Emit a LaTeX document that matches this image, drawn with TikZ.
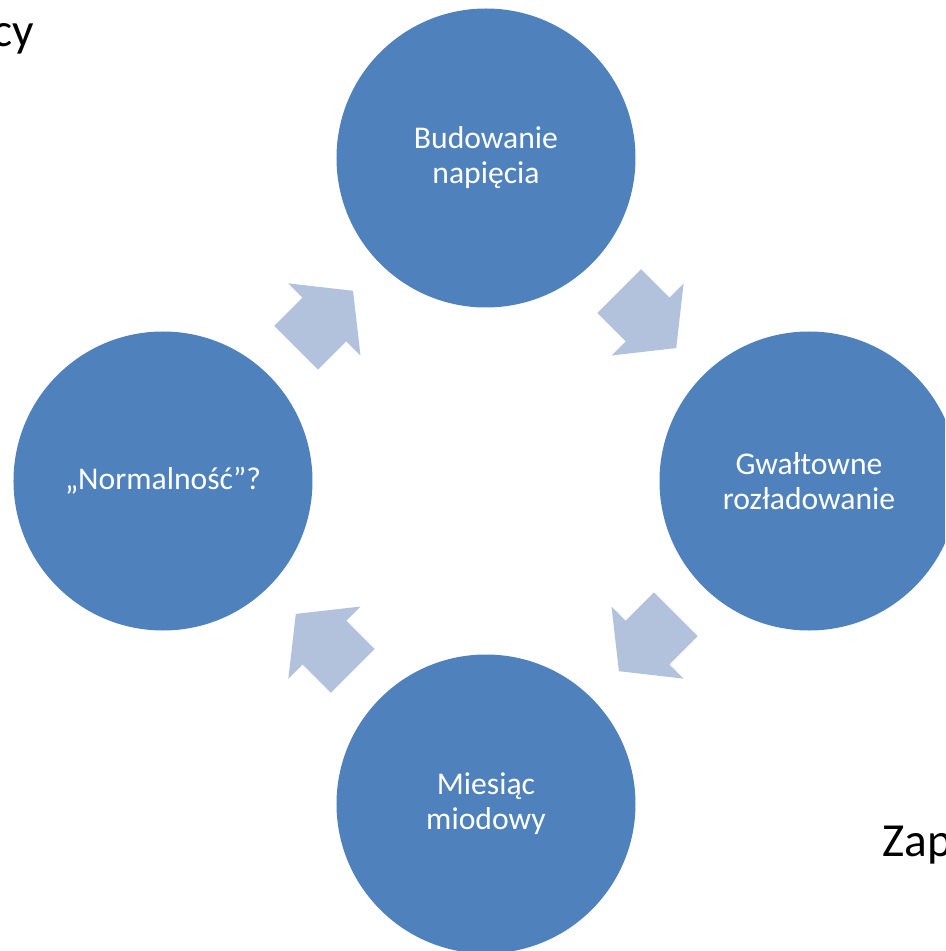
\documentclass[tikz,border=0pt]{standalone}
\usepackage{fontspec}
\setmainfont{Carlito}
\usepackage{tikz}
\usetikzlibrary{calc}
\definecolor{circblue}{HTML}{4F81BD}
\definecolor{arrowblue}{HTML}{B3C2DC}

\begin{document}
\begin{tikzpicture}[
  stage/.style={circle, fill=circblue, minimum size=5.98cm, inner sep=0pt,
    text=white, align=center, font=\fontsize{18}{19.9}\selectfont},
  slide/.style={font=\fontsize{27}{32}\selectfont, text=black, inner sep=0pt}]
\clip (-9.72,-9.40) rectangle (9.18,9.62);
% cycle stages
\node[stage] (build) at (90:6.46) {Budowanie\\napięcia};
\node[stage] (burst) at (0:6.46) {Gwałtowne\\rozładowanie};
\node[stage] (honey) at (-90:6.46) {Miesiąc\\miodowy};
\node[stage] (normal) at (180:6.46) {„Normalność”?};
% arrows between stages
\foreach \a in {135,45,-45,-135}
  \fill[arrowblue, shift={(\a:4.57)}, rotate=\a-90]
    (-0.8,0.62) -- (0,0.62) -- (0,1.02) -- (0.81,0) -- (0,-1.02) -- (0,-0.62) -- (-0.8,-0.62) -- cycle;
% slide text around
\node[slide, anchor=base east] (title) at (-9.04,8.68) {cy};
\node[slide, anchor=base west] (side) at (7.93,-7.51) {Zap};
\end{tikzpicture}
\end{document}
